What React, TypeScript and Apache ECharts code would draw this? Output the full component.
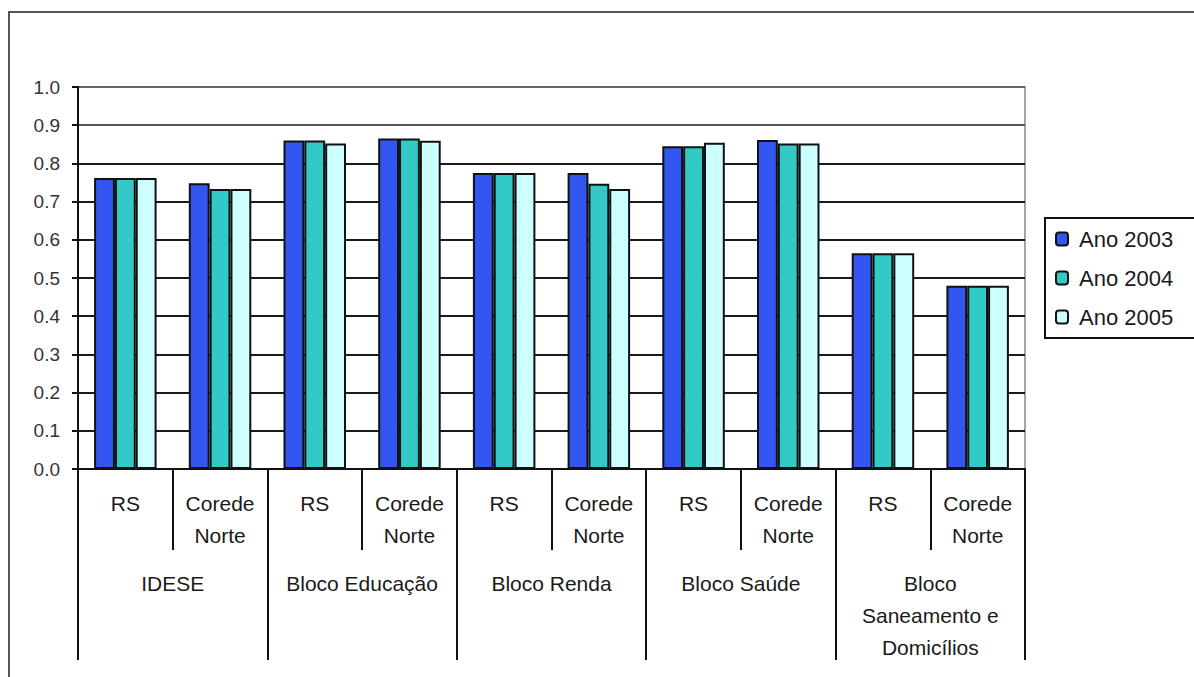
import React, { useEffect, useRef } from "react";
import * as echarts from "echarts";

const subCategories = [
  "RS", "Corede\nNorte", "RS", "Corede\nNorte", "RS", "Corede\nNorte",
  "RS", "Corede\nNorte", "RS", "Corede\nNorte",
];
const groups = ["IDESE", "Bloco Educação", "Bloco Renda", "Bloco Saúde", "Bloco\nSaneamento e\nDomicílios"];
const seriesNames = ["Ano 2003", "Ano 2004", "Ano 2005"];
const ano2003 = [0.762, 0.748, 0.86, 0.865, 0.775, 0.775, 0.845, 0.861, 0.565, 0.48];
const ano2004 = [0.762, 0.733, 0.86, 0.865, 0.775, 0.747, 0.845, 0.852, 0.565, 0.48];
const ano2005 = [0.762, 0.733, 0.852, 0.859, 0.775, 0.733, 0.854, 0.852, 0.565, 0.48];
const yTicks = [0, 0.1, 0.2, 0.3, 0.4, 0.5, 0.6, 0.7, 0.8, 0.9, 1.0];

const colors = ["#3355f0", "#33c9c6", "#ccffff"];
const FONT = "Liberation Sans, Arial, sans-serif";

export default function App() {
  const ref = useRef<HTMLDivElement>(null);
  useEffect(() => {
    if (!ref.current) return;
    const chart = echarts.init(ref.current, null, { renderer: "svg" });
    const values = [ano2003, ano2004, ano2005];
    chart.setOption({
      animation: false,
      backgroundColor: "#ffffff",
      textStyle: { fontFamily: FONT },
      graphic: [
        {
          type: "rect",
          z: -10,
          shape: { x: 9, y: 12, width: 1400, height: 900 },
          style: { fill: "none", stroke: "#555", lineWidth: 2 },
        },
      ],
      grid: {
        left: 78,
        right: 169,
        top: 87,
        bottom: 208,
        show: true,
        borderColor: "#888",
        borderWidth: 1.5,
      },
      legend: {
        left: 1045,
        top: 218,
        orient: "vertical",
        data: seriesNames,
        padding: [10, 60, 10, 10],
        itemWidth: 12,
        itemHeight: 13,
        itemGap: 17,
        borderColor: "#111",
        borderWidth: 2,
        textStyle: { fontFamily: FONT, fontSize: 22, color: "#1a1a1a", padding: [0, 0, 0, 6] },
      },
      xAxis: [
        {
          type: "category",
          data: subCategories,
          position: "bottom",
          axisLine: { show: true, lineStyle: { color: "#111", width: 2 } },
          axisTick: { show: true, length: 81, interval: 0, lineStyle: { color: "#111", width: 2 } },
          axisLabel: {
            interval: 0,
            margin: 18,
            fontFamily: FONT,
            fontSize: 21,
            lineHeight: 32,
            color: "#1a1a1a",
          },
        },
        {
          type: "category",
          data: groups,
          position: "bottom",
          axisLine: { show: false },
          axisTick: { show: true, length: 191, interval: 0, lineStyle: { color: "#111", width: 2 } },
          axisLabel: {
            interval: 0,
            margin: 98,
            fontFamily: FONT,
            fontSize: 21,
            lineHeight: 32,
            color: "#1a1a1a",
          },
        },
      ],
      yAxis: {
        type: "value",
        min: yTicks[0],
        max: yTicks[yTicks.length - 1],
        interval: 0.1,
        axisLine: { show: true, lineStyle: { color: "#111", width: 2 } },
        axisTick: { show: true, length: 6, lineStyle: { color: "#111", width: 2 } },
        axisLabel: {
          margin: 18,
          fontFamily: FONT,
          fontSize: 19,
          color: "#333",
          formatter: (v: number) => v.toFixed(1),
        },
        splitLine: {
          show: true,
          lineStyle: {
            color: ["#1a1a1a", "#1a1a1a", "#1a1a1a", "#1a1a1a", "#1a1a1a", "#1a1a1a", "#1a1a1a", "#1a1a1a", "#1a1a1a", "#555", "#666"],
            width: 2,
          },
        },
      },
      series: seriesNames.map((name, i) => ({
        name,
        type: "bar",
        xAxisIndex: 0,
        data: values[i],
        barGap: "0%",
        barCategoryGap: "34%",
        itemStyle: { color: colors[i], borderColor: "#111", borderWidth: 2 },
      })),
    });
    return () => chart.dispose();
  }, []);
  return (
    <div
      ref={ref}
      style={{ position: "absolute", left: 0, top: 0, width: 1194, height: 677 }}
    />
  );
}
